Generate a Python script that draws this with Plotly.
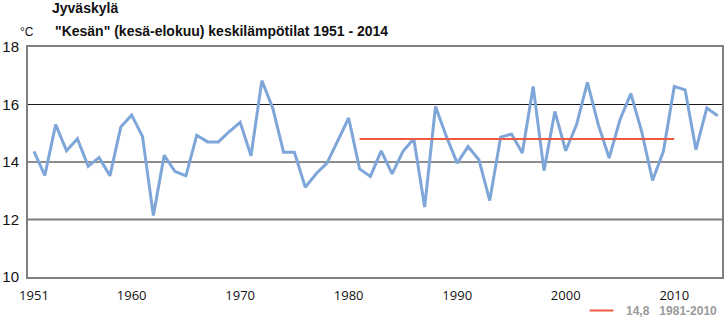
import plotly.graph_objects as go

years = list(range(1951, 2015))
temps = [
    14.37, 13.53, 15.30, 14.39, 14.81, 13.85, 14.16, 13.52, 15.22, 15.63,
    14.89, 12.14, 14.23, 13.67, 13.52, 14.93, 14.70, 14.70, 15.06, 15.38,
    14.22, 16.83, 15.88, 14.34, 14.34, 13.12, 13.59, 13.96, 14.74, 15.53,
    13.76, 13.50, 14.39, 13.59, 14.37, 14.81, 12.43, 15.93, 14.89, 13.96,
    14.54, 14.08, 12.66, 14.86, 14.97, 14.31, 16.63, 13.70, 15.76, 14.39,
    15.30, 16.77, 15.30, 14.14, 15.47, 16.38, 15.06, 13.36, 14.37, 16.63,
    16.51, 14.43, 15.88, 15.61,
]
normal_years = [1981, 2010]
normal_value = 14.8
normal_label = "14,8   1981-2010"
x_ticks = [1951, 1960, 1970, 1980, 1990, 2000, 2010]
y_ticks = [10, 12, 14, 16, 18]
dark_grid = [14, 16]
gray_grid = [12]

fig = go.Figure()
for g in dark_grid:
    fig.add_shape(type="line", xref="paper", yref="y", x0=0, x1=1, y0=g, y1=g,
                  line=dict(color="#1a1a1a", width=1), layer="below")
for g in gray_grid:
    fig.add_shape(type="line", xref="paper", yref="y", x0=0, x1=1, y0=g, y1=g,
                  line=dict(color="#7f7f7f", width=2), layer="below")

fig.add_trace(go.Scatter(
    x=years, y=temps, mode="lines",
    line=dict(color="#7ea6d8", width=3),
    showlegend=False, hoverinfo="x+y",
))
fig.add_trace(go.Scatter(
    x=normal_years, y=[normal_value, normal_value], mode="lines",
    line=dict(color="#ec5a3f", width=2),
    showlegend=False,
))

# legend sample
fig.add_shape(type="line", xref="paper", yref="paper",
              x0=(591 - 27) / 697, x1=(615 - 27) / 697,
              y0=-(310.5 - 277) / 230, y1=-(310.5 - 277) / 230,
              line=dict(color="#ec5a3f", width=2))

fig.add_annotation(text="<b>" + normal_label.replace(" ", "&nbsp;") + "</b>",
                   xref="paper", yref="paper",
                   x=(626 - 27) / 697, y=-(310.5 - 277) / 230,
                   xanchor="left", yanchor="middle", showarrow=False,
                   font=dict(family="Liberation Sans, Arial", size=12, color="#9a9a9a"))
fig.add_annotation(text="<b>Jyväskylä</b>", xref="paper", yref="paper",
                   x=(49 - 27) / 697, y=(277 - 8) / 230,
                   xanchor="left", yanchor="middle", showarrow=False,
                   font=dict(family="Liberation Sans, Arial", size=14, color="#111"))
fig.add_annotation(text='<b>"Kesän" (kesä-elokuu) keskilämpötilat 1951 - 2014</b>',
                   xref="paper", yref="paper",
                   x=(52 - 27) / 697, y=(277 - 31) / 230,
                   xanchor="left", yanchor="middle", showarrow=False,
                   font=dict(family="Liberation Sans, Arial", size=14, color="#111"))
fig.add_annotation(text="°C", xref="paper", yref="paper",
                   x=(17 - 27) / 697, y=(277 - 32) / 230,
                   xanchor="left", yanchor="middle", showarrow=False,
                   font=dict(family="Liberation Sans, Arial", size=12, color="#111"))

fig.update_layout(
    width=726, height=319,
    margin=dict(l=27, r=2, t=47, b=42),
    paper_bgcolor="white", plot_bgcolor="white",
    xaxis=dict(
        range=[1950.45, 2014.4], tickmode="array", tickvals=x_ticks,
        ticktext=[str(t) for t in x_ticks], showgrid=False, zeroline=False,
        showline=True, linecolor="#7f7f7f", linewidth=2, mirror=True,
        ticks="", ticklabelstandoff=5,
        tickfont=dict(family="Open Sans, DejaVu Sans", size=13, color="#111"),
    ),
    yaxis=dict(
        range=[10, 18], tickmode="array", tickvals=y_ticks,
        showgrid=False, zeroline=False,
        showline=True, linecolor="#7f7f7f", linewidth=2, mirror=True,
        ticks="", ticklabelstandoff=4,
        tickfont=dict(family="Liberation Sans, Arial", size=15, color="#111"),
    ),
)

fig.write_html("out.html")
